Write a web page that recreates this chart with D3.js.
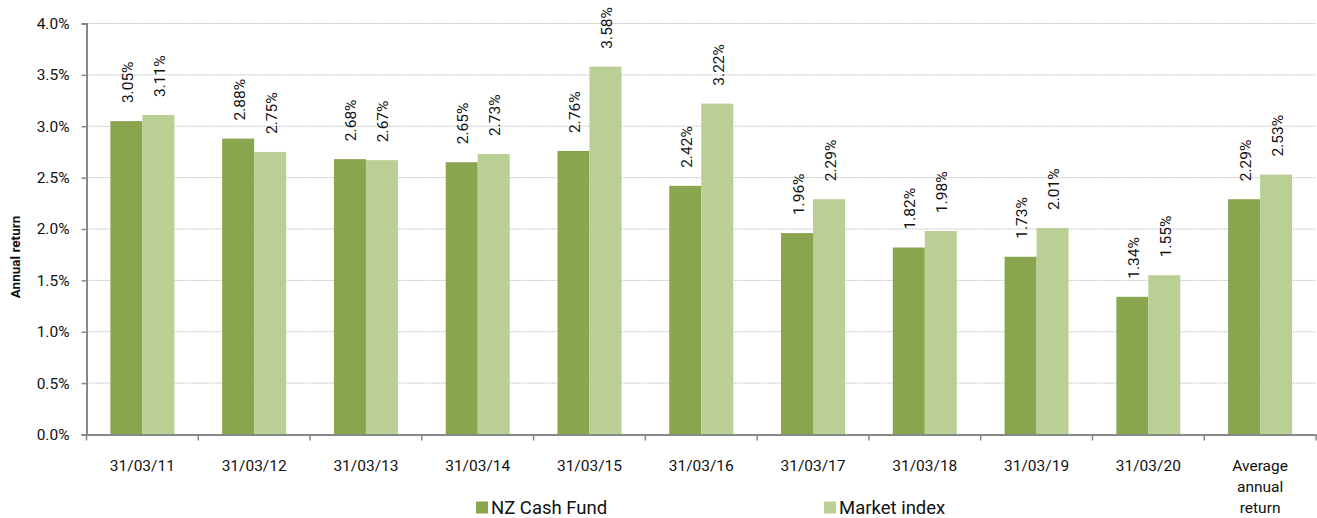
<!DOCTYPE html>
<html><head><meta charset="utf-8">
<script src="https://cdn.jsdelivr.net/npm/d3@7"></script>
<style>body{margin:0;background:#fff;} text{font-family:Roboto, "Noto Sans", sans-serif;}</style>
</head><body>
<svg id="c" width="1317" height="518"></svg>
<script>
const categories = ["31/03/11","31/03/12","31/03/13","31/03/14","31/03/15","31/03/16","31/03/17","31/03/18","31/03/19","31/03/20","Average\nannual\nreturn"];
const fundValues = [3.05,2.88,2.68,2.65,2.76,2.42,1.96,1.82,1.73,1.34,2.29];
const indexValues = [3.11,2.75,2.67,2.73,3.58,3.22,2.29,1.98,2.01,1.55,2.53];
const seriesNames = ["NZ Cash Fund","Market index"];
const yTicks = [0,0.5,1,1.5,2,2.5,3,3.5,4];
const colors = ["#89a54e","#b9cf94"];

(function(){
const svg = d3.select("#c");
const mLeft = 86.5, mRight = 1316, mTop = 23.5, mBottom = 434.5;
const x = d3.scaleBand().domain(categories).range([mLeft, mRight]).paddingInner(0).paddingOuter(0);
const y = d3.scaleLinear().domain([0,4]).range([mBottom, mTop]);
const bw = 32;

// gridlines
svg.append("g").selectAll("line").data(yTicks.filter(d=>d>0)).join("line")
  .attr("x1", mLeft).attr("x2", mRight).attr("y1", d=>y(d)).attr("y2", d=>y(d))
  .attr("stroke","#c4c4c4").attr("stroke-width",1).attr("stroke-dasharray","2,1");

// bars
const series = [fundValues, indexValues];
series.forEach((vals, si) => {
  const g = svg.append("g");
  g.selectAll("rect").data(vals).join("rect")
    .attr("x", (d,i)=> x(categories[i]) + x.bandwidth()/2 - bw + si*bw)
    .attr("width", bw)
    .attr("y", d=>y(d)).attr("height", d=>mBottom - y(d))
    .attr("fill", colors[si]);
  g.selectAll("text").data(vals).join("text")
    .attr("transform", (d,i)=> {
      const cx = x(categories[i]) + x.bandwidth()/2 - bw + si*bw + bw/2;
      return `translate(${cx+6.5},${y(d)-18}) rotate(-90)`;
    })
    .attr("font-size", 15.5).attr("fill","#111")
    .text(d=>d.toFixed(2)+"%");
});

// y axis
const yAxis = svg.append("g").attr("transform",`translate(${mLeft},0)`)
  .call(d3.axisLeft(y).tickValues(yTicks).tickFormat(d=>d.toFixed(1)+"%").tickSize(5).tickPadding(12));
yAxis.select(".domain").attr("stroke","#888").attr("stroke-width",2);
yAxis.selectAll(".tick line").attr("stroke","#888").attr("stroke-width",1.5);
yAxis.selectAll(".tick text").attr("font-size",15.5).attr("fill","#111").attr("font-family","Roboto, sans-serif");

// x axis
const xAxis = svg.append("g").attr("transform",`translate(0,${mBottom})`)
  .call(d3.axisBottom(x).tickSize(0).tickFormat(""));
xAxis.select(".domain").attr("stroke","#888").attr("stroke-width",2);
const edges = categories.map(c=>x(c)).concat([mRight]);
xAxis.append("g").selectAll("line").data(edges).join("line")
  .attr("x1", d=>d).attr("x2", d=>d).attr("y1",0).attr("y2",6)
  .attr("stroke","#888").attr("stroke-width",1.5);
const xl = xAxis.append("g").selectAll("text").data(categories).join("text")
  .attr("x", d=>x(d)+x.bandwidth()/2).attr("y", 36.5)
  .attr("text-anchor","middle").attr("font-size",15.5).attr("fill","#111");
xl.each(function(d){
  const lines = d.split("\n");
  d3.select(this).selectAll("tspan").data(lines).join("tspan")
    .attr("x", x(d)+x.bandwidth()/2).attr("dy",(l,i)=> i===0?0:21).text(l=>l);
});

// y title
svg.append("text").attr("transform","translate(20,257) rotate(-90)")
  .attr("text-anchor","middle").attr("font-size",13.5).attr("font-weight","bold").attr("fill","#111")
  .text("Annual return");

// legend
const legX = [476, 824];
seriesNames.forEach((n,i)=>{
  svg.append("rect").attr("x",legX[i]).attr("y",501.5).attr("width",12).attr("height",12).attr("fill",colors[i]);
  svg.append("text").attr("x",legX[i]+15).attr("y",514).attr("font-size",18.5).attr("fill","#111").text(n);
});
})();
</script>
</body></html>
